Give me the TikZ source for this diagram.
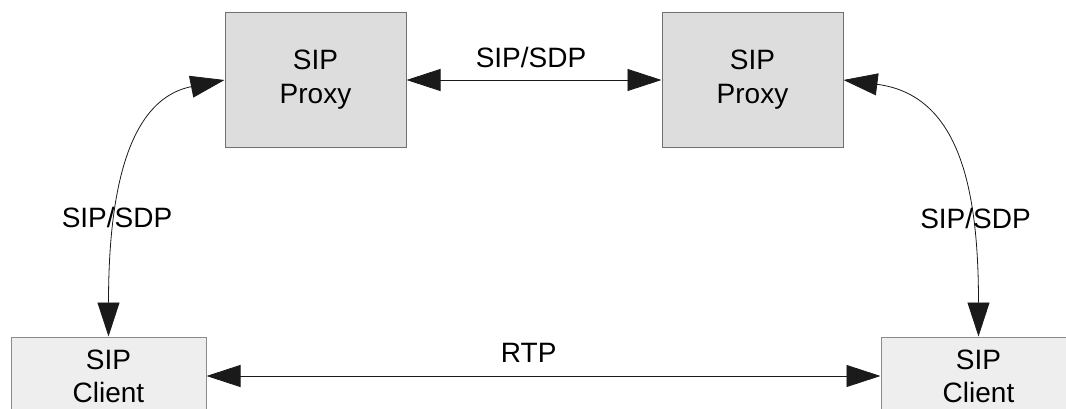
\documentclass[tikz,border=0pt]{standalone}
\usepackage{fontspec}
\setmainfont{Liberation Sans}
\usetikzlibrary{arrows.meta}
\definecolor{proxyfill}{HTML}{DDDDDD}
\definecolor{proxyline}{HTML}{707070}
\definecolor{clientfill}{HTML}{EEEEEE}
\definecolor{clientline}{HTML}{8A8A8A}
\definecolor{wire}{HTML}{1A1A1A}
\tikzset{
  lbl/.style={font=\fontsize{28}{34}\selectfont, inner sep=0pt},
  proxybox/.style={draw=proxyline, fill=proxyfill, line width=1pt,
    minimum width=181pt, minimum height=134.5pt, inner sep=0pt,
    align=center, font=\fontsize{28}{34}\selectfont},
  clientbox/.style={draw=clientline, fill=clientfill, line width=1pt,
    minimum width=195pt, minimum height=78pt, inner sep=0pt,
    align=center, font=\fontsize{28}{33}\selectfont},
  link/.style={draw=wire, line width=0.8pt,
    {Triangle[length=34pt,width=22pt]}-{Triangle[length=34pt,width=22pt]}}
}
\begin{document}
\begin{tikzpicture}[x=1pt,y=-1pt]
  \useasboundingbox (0,0) rectangle (1066,409);
  \clip (0,0) rectangle (1066,409);
  \fill[white] (0,0) rectangle (1066,409);

  % servers
  \node[proxybox] (lp) at (315.5,80) {SIP\\Proxy};
  \node[proxybox] (rp) at (752.5,80) {SIP\\Proxy};

  % endpoints (cut by the lower edge)
  \node[clientbox] (lc) at (108.5,376) {SIP\\Client};
  \node[clientbox] (rc) at (978.5,376) {SIP\\Client};

  % signalling and media paths
  \draw[link] (lp.east) -- (rp.west);
  \draw[link] (lc.east) -- (rc.west);
  \draw[link] (lc.north) .. controls (108.5,200) and (125,100) .. (lp.west);
  \draw[link] (rc.north) .. controls (978.5,190) and (960,95) .. (rp.east);

  % protocol labels
  \node[lbl, anchor=base] (t1) at (531,67.3) {SIP/SDP};
  \node[lbl, anchor=base] (t2) at (528.7,362.3) {RTP};
  \node[lbl, anchor=base] (t3) at (117,227) {SIP/SDP};
  \node[lbl, anchor=base] (t4) at (975.5,229) {SIP/SDP};
\end{tikzpicture}
\end{document}
